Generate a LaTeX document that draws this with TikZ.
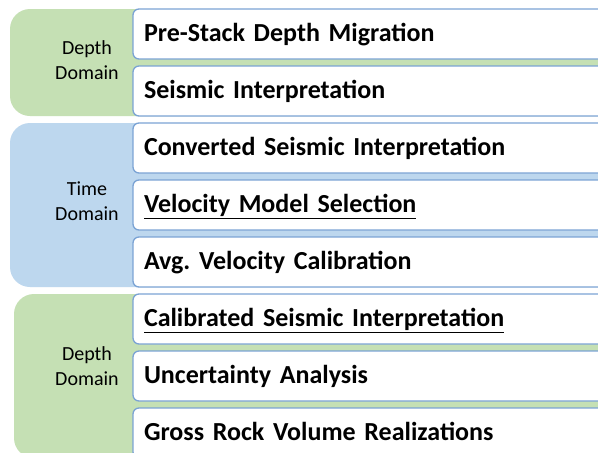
\documentclass[tikz,border=0pt]{standalone}
\usepackage{fontspec}
\setmainfont{Carlito}
\usetikzlibrary{positioning}

\definecolor{depthgreen}{HTML}{C5E0B4}
\definecolor{timeblue}{HTML}{BDD7EE}
\definecolor{boxline}{HTML}{7BA3D4}

% thick underline that does not change the box height
\newcommand{\stepul}[1]{\setbox0\hbox{#1}\rlap{\smash{\rule[-6.6pt]{\wd0}{1.3pt}}}\box0}

\tikzset{
  stage/.style = {draw=boxline, line width=1.3pt, fill=white, rounded corners=6pt,
    minimum height=50pt, outer sep=0pt, text width=520pt, inner xsep=11pt, anchor=north west,
    text height=20pt, text depth=5.6pt, font=\bfseries\fontsize{26}{30}\selectfont},
  domainlabel/.style = {align=center, font=\fontsize{20}{25}\selectfont},
}

\begin{document}
\frenchspacing
\begin{tikzpicture}[x=1pt, y=-1pt, node distance=7pt]
    \clip (0, 0) rectangle (598, 453);
    \fill[white] (0, 0) rectangle (598, 453);

    % domain bands
    \fill[depthgreen, rounded corners=20pt] (10, 9) rectangle (660, 116);
    \fill[timeblue, rounded corners=20pt] (10, 123) rectangle (660, 287);
    \fill[depthgreen, rounded corners=20pt] (14, 294) rectangle (660, 458);

    \node[domainlabel] (depthA) at (87, 60) {Depth\\Domain};
    \node[domainlabel] (timeB) at (87, 201) {Time\\Domain};
    \node[domainlabel] (depthC) at (87, 366) {Depth\\Domain};

    % workflow steps
    \node[stage] (psdm) at (133, 9) {Pre-Stack Depth Migration};
    \node[stage, below=of psdm] (interp) {Seismic Interpretation};
    \node[stage, below=of interp] (convinterp) {Converted Seismic Interpretation};
    \node[stage, below=of convinterp] (velmodel) {\stepul{Velocity Model Selection}};
    \node[stage, below=of velmodel] (velcal) {Avg. Velocity Calibration};
    \node[stage, below=of velcal] (calinterp) {\stepul{Calibrated Seismic Interpretation}};
    \node[stage, below=of calinterp] (uncert) {Uncertainty Analysis};
    \node[stage, below=of uncert] (grv) {Gross Rock Volume Realizations};
\end{tikzpicture}
\end{document}
